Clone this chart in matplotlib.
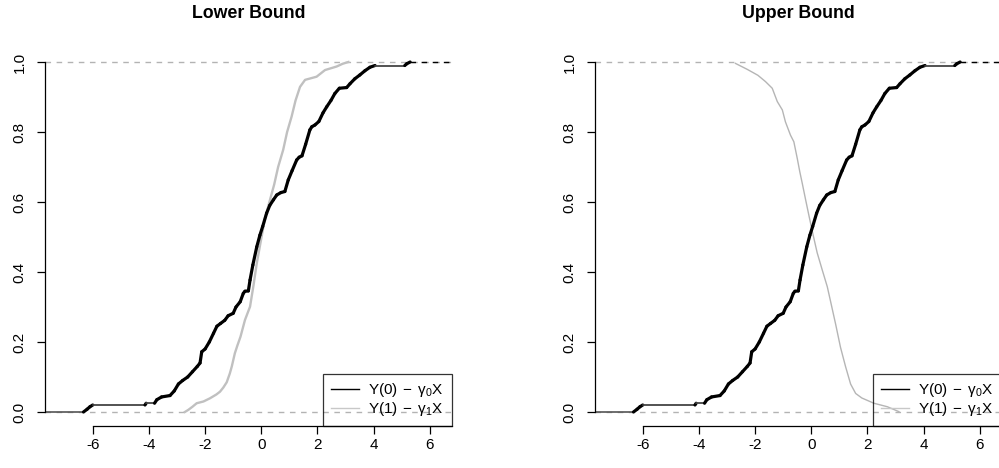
import numpy as np
import matplotlib
matplotlib.use("Agg")
import matplotlib.pyplot as plt
from matplotlib.collections import LineCollection
from matplotlib.lines import Line2D

plt.rcParams['font.family'] = ['Liberation Sans', 'DejaVu Sans']
plt.rcParams['mathtext.fontset'] = 'custom'
plt.rcParams['mathtext.rm'] = 'Liberation Sans'
plt.rcParams['mathtext.it'] = 'Liberation Sans:italic'
plt.rcParams['axes.unicode_minus'] = False

# empirical CDF of Y(0) - gamma0*X (same in both panels)
y0_x = [-6.33, -6.20, -6.10, -6.00, -4.14, -4.10, -3.80, -3.72, -3.55, -3.25,
        -3.10, -2.95, -2.80, -2.62, -2.45, -2.28, -2.18, -2.12, -2.00, -1.85,
        -1.70, -1.58, -1.45, -1.30, -1.18, -1.00, -0.90, -0.75, -0.64, -0.58,
        -0.46, -0.40, -0.30, -0.16, -0.05, 0.05, 0.19, 0.30, 0.43, 0.55,
        0.70, 0.84, 0.96, 1.10, 1.26, 1.35, 1.45, 1.58, 1.73, 1.80,
        1.91, 2.05, 2.20, 2.33, 2.48, 2.62, 2.78, 3.04, 3.16, 3.33,
        3.51, 3.69, 3.87, 4.05, 5.11, 5.18, 5.30]
y0_F = [0.000, 0.008, 0.015, 0.020, 0.020, 0.025, 0.025, 0.035, 0.043, 0.047,
        0.060, 0.080, 0.090, 0.100, 0.115, 0.130, 0.140, 0.172, 0.180, 0.200,
        0.225, 0.245, 0.253, 0.262, 0.275, 0.282, 0.300, 0.315, 0.339, 0.345,
        0.346, 0.377, 0.420, 0.472, 0.505, 0.530, 0.568, 0.590, 0.606, 0.620,
        0.627, 0.630, 0.663, 0.690, 0.720, 0.728, 0.732, 0.765, 0.806, 0.815,
        0.820, 0.830, 0.855, 0.872, 0.890, 0.910, 0.925, 0.927, 0.938, 0.952,
        0.963, 0.975, 0.985, 0.990, 0.990, 0.995, 1.000]

# lower bound: CDF of Y(1) - gamma1*X
lo_x = [-2.72, -2.60, -2.45, -2.30, -2.06, -1.83, -1.60, -1.47, -1.35, -1.23,
        -1.12, -1.05, -0.94, -0.85, -0.74, -0.58, -0.40, -0.28, -0.16, 0.01,
        0.13, 0.31, 0.46, 0.60, 0.78, 0.92, 1.08, 1.22, 1.38, 1.56,
        1.97, 2.27, 2.68, 2.90, 3.10]
lo_F = [0.000, 0.006, 0.015, 0.025, 0.030, 0.039, 0.050, 0.058, 0.070, 0.085,
        0.110, 0.130, 0.168, 0.190, 0.215, 0.263, 0.301, 0.360, 0.425, 0.500,
        0.553, 0.606, 0.650, 0.700, 0.749, 0.800, 0.844, 0.890, 0.929, 0.949,
        0.958, 0.977, 0.987, 0.995, 1.000]

# upper bound curve
up_x = [-2.70, -2.28, -1.90, -1.63, -1.39, -1.21, -1.03, -0.92, -0.74, -0.62,
        -0.50, -0.41, -0.32, -0.20, -0.08, 0.04, 0.21, 0.39, 0.57, 0.69,
        0.87, 1.04, 1.22, 1.40, 1.58, 1.80, 2.23, 2.71, 3.12]
up_F = [0.996, 0.979, 0.962, 0.944, 0.925, 0.887, 0.863, 0.829, 0.791, 0.772,
        0.725, 0.687, 0.653, 0.606, 0.560, 0.515, 0.455, 0.406, 0.358, 0.315,
        0.250, 0.185, 0.130, 0.080, 0.053, 0.040, 0.025, 0.015, 0.001]

titles = ['Lower Bound', 'Upper Bound']
labels = ['Y(0)$\\;-\\;$γ$_0$X', 'Y(1)$\\;-\\;$γ$_1$X']
xticks = [-6, -4, -2, 0, 2, 4, 6]
yticks = [0.0, 0.2, 0.4, 0.6, 0.8, 1.0]

W, H = 999, 468
fig = plt.figure(figsize=(W / 100, H / 100), dpi=100)

XLIM = (-7.70, 6.78)
YLIM = (-0.04, 1.04)
ax_w = 406.7
lefts = [45, 595]


def draw_panel(ax, gx, gF, glw, gcol, title):
    ax.set_xlim(*XLIM)
    ax.set_ylim(*YLIM)
    for h in (0, 1):
        ax.axhline(h, color='#b3b3b3', lw=1, dashes=(4, 4), zorder=1)

    # black ecdf: thick where it climbs, thin on the flats
    pts = np.column_stack([y0_x, y0_F])
    segs = np.stack([pts[:-1], pts[1:]], axis=1)
    flat = np.diff(y0_F) == 0
    lws = np.where(flat, 1.3, 2.3)
    cols = ['#444444' if f else 'black' for f in flat]
    lc = LineCollection(segs, linewidths=lws, colors=cols, zorder=3,
                        capstyle='round', joinstyle='round')
    ax.add_collection(lc)
    ax.plot([XLIM[0], y0_x[0]], [0, 0], color='#555555', lw=1.2, zorder=2)
    ax.plot([y0_x[-1], XLIM[1]], [1, 1], color='black', lw=1.0,
            dashes=(4, 4), zorder=2)

    ax.plot(gx, gF, color=gcol, lw=glw, zorder=2)

    for s in ('top', 'right'):
        ax.spines[s].set_visible(False)
    ax.spines['left'].set_bounds(0, 1)
    ax.spines['bottom'].set_bounds(-6, XLIM[1])
    ax.spines['left'].set_linewidth(0.9)
    ax.spines['bottom'].set_linewidth(0.9)
    ax.set_xticks(xticks)
    ax.set_xticklabels([str(t) for t in xticks])
    ax.set_yticks(yticks)
    ax.set_yticklabels(['%.1f' % t for t in yticks], rotation=90, va='center')
    ax.tick_params(axis='both', length=5.8, width=0.9, labelsize=11)
    ax.tick_params(axis='x', pad=2.5)
    ax.tick_params(axis='y', pad=7.5)

    handles = [Line2D([], [], color='black', lw=1),
               Line2D([], [], color='#c8c8c8', lw=1)]
    leg = ax.legend(handles, labels, loc='lower right', bbox_to_anchor=(1, 0),
                    borderaxespad=0, fontsize=11, frameon=True, fancybox=False,
                    handlelength=1.85, handletextpad=0.6, labelspacing=0.08,
                    borderpad=0.5)
    leg.get_frame().set_edgecolor('black')
    leg.get_frame().set_facecolor('none')
    leg.get_frame().set_linewidth(0.9)

    pos = ax.get_position()
    fig.text(pos.x0 + pos.width / 2, 1 - 13 / H, title, ha='center',
             va='center', fontsize=12.8, fontweight='bold')


bottom = (H - 426) / H
height = (426 - 48) / H
ax1 = fig.add_axes([lefts[0] / W, bottom, ax_w / W, height])
ax2 = fig.add_axes([lefts[1] / W, bottom, ax_w / W, height])
draw_panel(ax1, lo_x, lo_F, 1.7, '#c0c0c0', titles[0])
draw_panel(ax2, up_x, up_F, 1.0, '#b5b5b5', titles[1])

fig.savefig('out.png', dpi=100)
